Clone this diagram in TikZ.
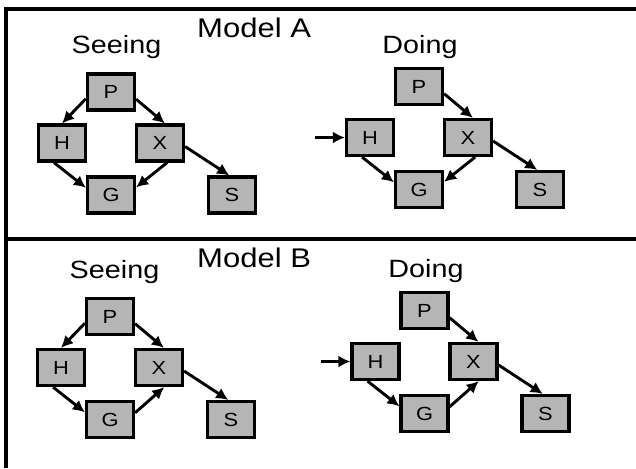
\documentclass[tikz,border=0pt]{standalone}
\usepackage{fontspec}
\setmainfont[FakeStretch=1.15]{Liberation Sans}
\usetikzlibrary{arrows.meta}
\definecolor{boxgray}{gray}{0.71}

\begin{document}
\begin{tikzpicture}[x=1pt, y=-1pt, >={Latex[length=12pt,width=12pt]},
    var/.style={draw, line width=3.2pt, fill=boxgray, minimum width=47pt,
      minimum height=36pt, inner sep=0pt, font=\fontsize{19}{22}\selectfont},
    title/.style={anchor=base west, inner sep=0pt, font=\fontsize{27}{32}\selectfont},
    mode/.style={anchor=base, inner sep=0pt, font=\fontsize{25}{30}\selectfont},
    link/.style={->, line width=2.9pt}]
    \useasboundingbox (0,0) rectangle (636,468);

    % Define the five variables of one graph
    \def\vars{
      \node[var] (P) at (0,0) {P};
      \node[var] (H) at (-49,51) {H};
      \node[var] (X) at (49,51) {X};
      \node[var] (G) at (0,103) {G};
      \node[var] (S) at (121,103) {S};
    }

    % Draw the frame
    \draw[line width=3.2pt] (636,9) -- (6,9) -- (6,468);
    \draw[line width=3.2pt] (6,239) -- (636,239);

    % Draw the labels
    \node[title] (ma) at (197,38) {Model A};
    \node[title] (mb) at (197,267) {Model B};
    \node[mode] (sa) at (116.5,54) {Seeing};
    \node[mode] (da) at (420,54) {Doing};
    \node[mode] (sb) at (114.5,278) {Seeing};
    \node[mode] (db) at (426,277) {Doing};

    % Model A, seeing
    \begin{scope}[shift={(111,92)}, name prefix=sa-]
      \vars
      \draw[link] (P.195) -- (H.north);
      \draw[link] (P.344) -- (X.76);
      \draw[link] (H.248) -- (G.164);
      \draw[link] (X.290) -- (G.17);
      \draw[link] (X.352) -- (S.98);
    \end{scope}

    % Model A, doing
    \begin{scope}[shift={(419,86.5)}, name prefix=da-]
      \vars
      \coordinate (in) at (-104,51);
      \draw[link] (in) -- (H.west);
      \draw[link] (P.344) -- (X.76);
      \draw[link] (H.248) -- (G.164);
      \draw[link] (X.290) -- (G.17);
      \draw[link] (X.352) -- (S.98);
    \end{scope}

    % Model B, seeing
    \begin{scope}[shift={(110,316.5)}, name prefix=sb-]
      \vars
      \draw[link] (P.195) -- (H.north);
      \draw[link] (P.344) -- (X.76);
      \draw[link] (H.248) -- (G.164);
      \draw[link] (G.15) -- (X.285);
      \draw[link] (X.352) -- (S.98);
    \end{scope}

    % Model B, doing
    \begin{scope}[shift={(424.5,310.5)}, name prefix=db-]
      \vars
      \coordinate (in) at (-104,51);
      \draw[link] (in) -- (H.west);
      \draw[link] (P.344) -- (X.76);
      \draw[link] (H.248) -- (G.164);
      \draw[link] (G.15) -- (X.285);
      \draw[link] (X.352) -- (S.98);
    \end{scope}
  \end{tikzpicture}
\end{document}
